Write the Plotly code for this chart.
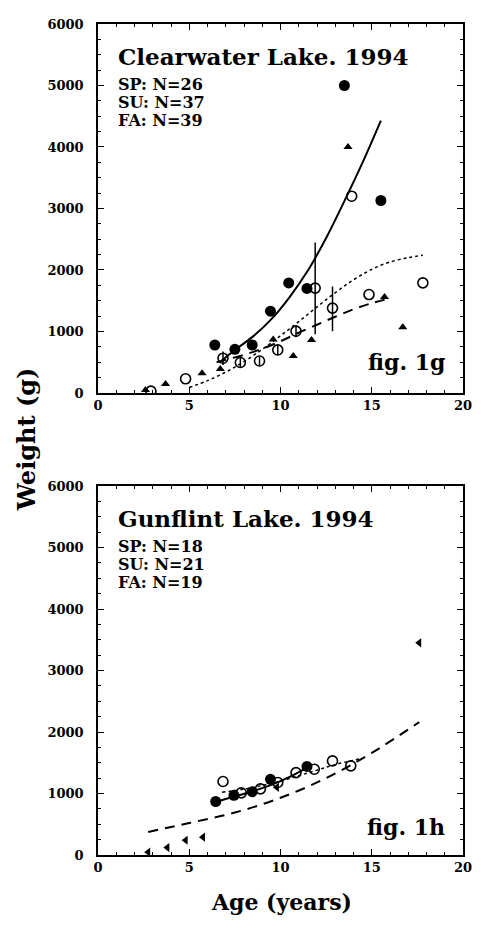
import plotly.graph_objects as go

# ---------------- Clearwater Lake, 1994 (top panel) ----------------
cw_sp_age = [6.4, 7.5, 8.45, 9.45, 10.45, 11.45, 13.5, 15.5]
cw_sp_wt = [780, 710, 780, 1330, 1790, 1700, 5000, 3130]

cw_su_age = [2.6, 3.7, 5.7, 6.7, 9.6, 10.7, 11.7, 13.7, 15.7, 16.7]
cw_su_wt = [50, 145, 320, 390, 870, 600, 860, 4000, 1560, 1070]

cw_fa_age = [2.9, 4.8, 6.85, 7.8, 8.85, 9.85, 10.85, 11.9, 12.85, 13.9, 14.85, 17.8]
cw_fa_wt = [30, 230, 565, 495, 520, 700, 1005, 1705, 1380, 3200, 1600, 1790]
cw_fa_err_up = [0, 0, 110, 80, 70, 80, 100, 740, 350, 0, 0, 0]
cw_fa_err_dn = [0, 0, 110, 80, 70, 80, 100, 750, 375, 0, 0, 0]

cw_fit_solid_age = [6.75, 7.5, 8.5, 9.5, 10.5, 11.5, 12.5, 13.5, 14.5, 15.5]
cw_fit_solid_wt = [520, 700, 920, 1200, 1560, 1990, 2520, 3120, 3750, 4430]

cw_fit_dot_age = [5.0, 6, 7, 8, 9, 10, 11, 12, 13, 14, 15, 16, 17, 17.8]
cw_fit_dot_wt = [90, 200, 340, 510, 710, 930, 1160, 1400, 1630, 1840, 2010, 2130, 2200, 2240]

cw_fit_dash_age = [6.5, 7, 8, 9, 10, 11, 12, 13, 14, 15, 16]
cw_fit_dash_wt = [500, 540, 620, 720, 840, 980, 1110, 1240, 1360, 1460, 1540]

# ---------------- Gunflint Lake, 1994 (bottom panel) ----------------
gf_sp_age = [6.45, 7.45, 8.45, 9.45, 11.45]
gf_sp_wt = [870, 970, 1030, 1230, 1440]

gf_su_age = [2.75, 3.8, 4.8, 5.75, 9.8, 17.6]
gf_su_wt = [45, 120, 240, 290, 1100, 3450]

gf_fa_age = [6.85, 7.85, 8.9, 9.85, 10.85, 11.85, 12.85, 13.85]
gf_fa_wt = [1195, 1010, 1075, 1180, 1340, 1395, 1530, 1450]

gf_fit_solid_age = [6.5, 7.5, 8.5, 9.5, 10.5, 11.5]
gf_fit_solid_wt = [870, 950, 1040, 1140, 1270, 1430]

gf_fit_dot_age = [6.8, 8, 9, 10, 11, 12, 13, 14.3]
gf_fit_dot_wt = [1020, 1070, 1130, 1200, 1290, 1380, 1470, 1560]

gf_fit_dash_age = [2.75, 5, 7.5, 10, 12.5, 15, 17.6]
gf_fit_dash_wt = [375, 520, 690, 930, 1250, 1660, 2160]

x_ticks = [0, 5, 10, 15, 20]
y_ticks = [0, 1000, 2000, 3000, 4000, 5000, 6000]

FONT = "DejaVu Serif"
BLACK = "black"

fig = go.Figure()


def add_panel(xa, ya, sp, su, fa, fits, su_symbol, fa_err=None):
    fs, fd, fh = fits
    fig.add_trace(go.Scatter(x=fs[0], y=fs[1], mode="lines", line=dict(color=BLACK, width=2, shape="spline"),
                             xaxis=xa, yaxis=ya, showlegend=False, hoverinfo="skip"))
    fig.add_trace(go.Scatter(x=fd[0], y=fd[1], mode="lines",
                             line=dict(color=BLACK, width=1.5, dash="dot", shape="spline"),
                             xaxis=xa, yaxis=ya, showlegend=False, hoverinfo="skip"))
    fig.add_trace(go.Scatter(x=fh[0], y=fh[1], mode="lines",
                             line=dict(color=BLACK, width=2, dash="10px,7px", shape="spline"),
                             xaxis=xa, yaxis=ya, showlegend=False, hoverinfo="skip"))
    fig.add_trace(go.Scatter(x=sp[0], y=sp[1], mode="markers", name="SP",
                             marker=dict(symbol="circle", size=11, color=BLACK),
                             xaxis=xa, yaxis=ya, showlegend=False))
    fig.add_trace(go.Scatter(x=su[0], y=su[1], mode="markers", name="SU",
                             marker=dict(symbol=su_symbol, size=8, color=BLACK),
                             xaxis=xa, yaxis=ya, showlegend=False))
    err = None
    if fa_err is not None:
        err = dict(type="data", array=fa_err[0], arrayminus=fa_err[1], symmetric=False,
                   color=BLACK, thickness=1.5, width=0)
    fig.add_trace(go.Scatter(x=fa[0], y=fa[1], mode="markers", name="FA",
                             marker=dict(symbol="circle-open", size=10, color=BLACK,
                                         line=dict(width=1.6, color=BLACK)),
                             error_y=err, xaxis=xa, yaxis=ya, showlegend=False))


add_panel("x", "y", (cw_sp_age, cw_sp_wt), (cw_su_age, cw_su_wt), (cw_fa_age, cw_fa_wt),
          ((cw_fit_solid_age, cw_fit_solid_wt), (cw_fit_dot_age, cw_fit_dot_wt),
           (cw_fit_dash_age, cw_fit_dash_wt)),
          "triangle-up", fa_err=(cw_fa_err_up, cw_fa_err_dn))
add_panel("x2", "y2", (gf_sp_age, gf_sp_wt), (gf_su_age, gf_su_wt), (gf_fa_age, gf_fa_wt),
          ((gf_fit_solid_age, gf_fit_solid_wt), (gf_fit_dot_age, gf_fit_dot_wt),
           (gf_fit_dash_age, gf_fit_dash_wt)),
          "triangle-left")

tickfont = dict(family=FONT, size=13, color=BLACK, weight="bold")
xcommon = dict(range=[0, 20], tickvals=x_ticks, ticktext=[str(v) for v in x_ticks],
               showline=True, linecolor=BLACK, linewidth=1.5, mirror="ticks",
               ticks="inside", ticklen=6, tickwidth=1.2, tickcolor=BLACK,
               minor=dict(ticks="inside", dtick=1, ticklen=3, tickwidth=1, tickcolor=BLACK),
               showgrid=False, zeroline=False, tickfont=tickfont, fixedrange=True)
ycommon = dict(range=[0, 6000], tickvals=y_ticks, ticktext=[str(v) for v in y_ticks],
               showline=True, linecolor=BLACK, linewidth=1.5, mirror="ticks",
               ticks="inside", ticklen=6, tickwidth=1.2, tickcolor=BLACK,
               minor=dict(ticks="inside", dtick=250, ticklen=3, tickwidth=1, tickcolor=BLACK),
               showgrid=False, zeroline=False, tickfont=tickfont, fixedrange=True, ticklabelstandoff=10)

top_domain = [0.556, 1.0]
bot_domain = [0.0, 0.444]

# the page body has an 8px default margin, so the figure is 8px smaller than the window
fig.update_layout(
    width=473, height=922,
    margin=dict(l=90, r=11, t=9, b=75),
    paper_bgcolor="white", plot_bgcolor="white",
    xaxis=dict(**xcommon, anchor="y", domain=[0, 1]),
    yaxis=dict(**ycommon, anchor="x", domain=top_domain),
    xaxis2=dict(**xcommon, anchor="y2", domain=[0, 1]),
    yaxis2=dict(**ycommon, anchor="x2", domain=bot_domain),
    showlegend=False,
)


def txt(text, x, y, xref, yref, size, xanchor="left", yanchor="middle", angle=0):
    fig.add_annotation(text=text, x=x, y=y, xref=xref, yref=yref, showarrow=False,
                       xanchor=xanchor, yanchor=yanchor, textangle=angle,
                       font=dict(family=FONT, size=size, color=BLACK, weight="bold"))


# top panel texts
txt("Clearwater Lake. 1994", 0.048, 0.912, "x domain", "y domain", 23)
txt("SP: N=26", 0.048, 0.835, "x domain", "y domain", 16)
txt("SU: N=37", 0.048, 0.787, "x domain", "y domain", 16)
txt("FA: N=39", 0.048, 0.739, "x domain", "y domain", 16)
txt("fig. 1g", 0.955, 0.083, "x domain", "y domain", 22, xanchor="right")

# bottom panel texts
txt("Gunflint Lake. 1994", 0.048, 0.912, "x2 domain", "y2 domain", 23)
txt("SP: N=18", 0.048, 0.835, "x2 domain", "y2 domain", 16)
txt("SU: N=21", 0.048, 0.787, "x2 domain", "y2 domain", 16)
txt("FA: N=19", 0.048, 0.739, "x2 domain", "y2 domain", 16)
txt("fig. 1h", 0.955, 0.075, "x2 domain", "y2 domain", 22, xanchor="right")

# axis titles
txt("Weight (g)", -0.196, 0.501, "paper", "paper", 24, xanchor="center", angle=-90)
txt("Age (years)", 0.503, -0.056, "paper", "paper", 22, xanchor="center")

fig.write_html("out.html")
